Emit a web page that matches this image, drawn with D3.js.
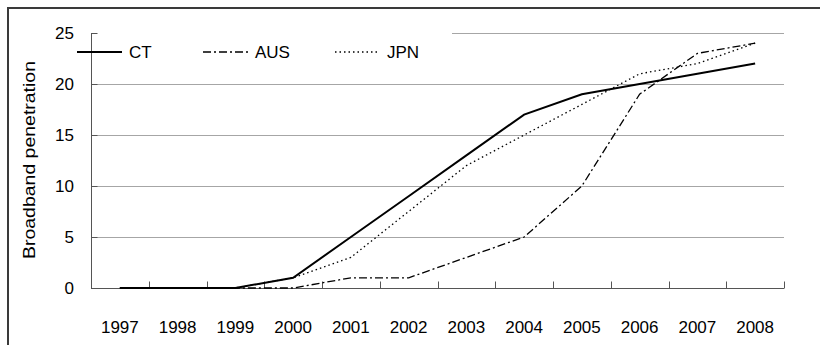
<!DOCTYPE html>
<html>
<head>
<meta charset="utf-8">
<script src="https://cdn.jsdelivr.net/npm/d3@7"></script>
<style>
  html, body { margin: 0; padding: 0; background: #fff; }
  svg { display: block; font-family: "Liberation Sans", Arial, sans-serif; }
</style>
</head>
<body>
<svg id="chart" width="820" height="345"></svg>
<script>
const years = ["1997","1998","1999","2000","2001","2002","2003","2004","2005","2006","2007","2008"];
const ct  = [0, 0, 0, 1, 5, 9, 13, 17, 19, 20, 21, 22];
const aus = [0, 0, 0, 0, 1, 1, 3, 5, 10, 19, 23, 24];
const jpn = [0, 0, 0, 1, 3, 7.5, 12, 15, 18, 21, 22, 24];
const yTicks = [0, 5, 10, 15, 20, 25];
const seriesNames = ["CT", "AUS", "JPN"];
const yTitle = "Broadband penetration";

(function () {
const svg = d3.select("#chart");
const FS = 17;

// outer frame
svg.append("rect").attr("x", 8).attr("y", 8).attr("width", 830).attr("height", 360)
  .attr("fill", "none").attr("stroke", "#3a3a3a").attr("stroke-width", 2);

const pLeft = 91, pRight = 784, pTop = 33, pBottom = 288;
const x = d3.scaleBand().domain(years).range([pLeft, pRight]);
const y = d3.scaleLinear().domain([0, 25]).range([pBottom, pTop]);

// grid
svg.append("g").selectAll("line").data(yTicks.filter(d => d > 0)).join("line")
  .attr("x1", pLeft).attr("x2", pRight)
  .attr("y1", d => y(d) + 0.5).attr("y2", d => y(d) + 0.5)
  .attr("stroke", "#a6a6a6").attr("stroke-width", 1);

// legend background
svg.append("rect").attr("x", 92).attr("y", 27).attr("width", 360).attr("height", 45).attr("fill", "#fff");

// y axis
const yAxis = svg.append("g").attr("transform", `translate(${pLeft + 0.5},0)`)
  .call(d3.axisRight(y).tickValues(yTicks).tickSize(6).tickFormat(""));
yAxis.select(".domain").attr("d", `M0,${pTop}V${pBottom}`).attr("stroke", "#555");
yAxis.selectAll(".tick line").attr("stroke", "#555");

svg.append("g").selectAll("text").data(yTicks).join("text")
  .attr("x", 74).attr("y", d => y(d)).attr("dy", "0.36em")
  .attr("text-anchor", "end").attr("font-size", FS).attr("fill", "#000")
  .text(d => d);

// x axis
const xAxisG = svg.append("g").attr("transform", `translate(0,${pBottom + 0.5})`);
xAxisG.append("line").attr("x1", pLeft).attr("x2", pRight).attr("stroke", "#555");
const boundaries = years.map(d => x(d)).concat([pRight]);
xAxisG.selectAll("line.tk").data(boundaries).join("line").attr("class", "tk")
  .attr("x1", d => Math.round(d) + 0.5).attr("x2", d => Math.round(d) + 0.5)
  .attr("y1", 0).attr("y2", -7).attr("stroke", "#555");
xAxisG.selectAll("text").data(years).join("text")
  .attr("x", d => x(d) + x.bandwidth() / 2).attr("y", 44)
  .attr("text-anchor", "middle").attr("font-size", FS).attr("fill", "#000")
  .text(d => d);

// y title
svg.append("text").attr("transform", `translate(35,${(60 + 260) / 2}) rotate(-90)`)
  .attr("text-anchor", "middle").attr("font-size", 17).attr("fill", "#000")
  .attr("textLength", 198).attr("lengthAdjust", "spacingAndGlyphs")
  .text(yTitle);

// series
const styles = [
  { data: ct,  width: 2,   dash: null },
  { data: aus, width: 1.3, dash: "8,3,2,3" },
  { data: jpn, width: 1.3, dash: "1.5,3" }
];
const line = d3.line().x((d, i) => x(years[i]) + x.bandwidth() / 2).y(d => y(d));
styles.forEach(s => {
  svg.append("path").datum(s.data).attr("d", line)
    .attr("fill", "none").attr("stroke", "#000").attr("stroke-width", s.width)
    .attr("stroke-dasharray", s.dash);
});

// legend
const legendX = [77, 203, 335];
const legY = 52;
seriesNames.forEach((name, i) => {
  svg.append("line").attr("x1", legendX[i]).attr("x2", legendX[i] + 45)
    .attr("y1", legY).attr("y2", legY)
    .attr("stroke", "#000").attr("stroke-width", styles[i].width)
    .attr("stroke-dasharray", styles[i].dash);
  svg.append("text").attr("x", legendX[i] + 52).attr("y", legY).attr("dy", "0.36em")
    .attr("font-size", FS).attr("fill", "#000").text(name);
});
})();
</script>
</body>
</html>
